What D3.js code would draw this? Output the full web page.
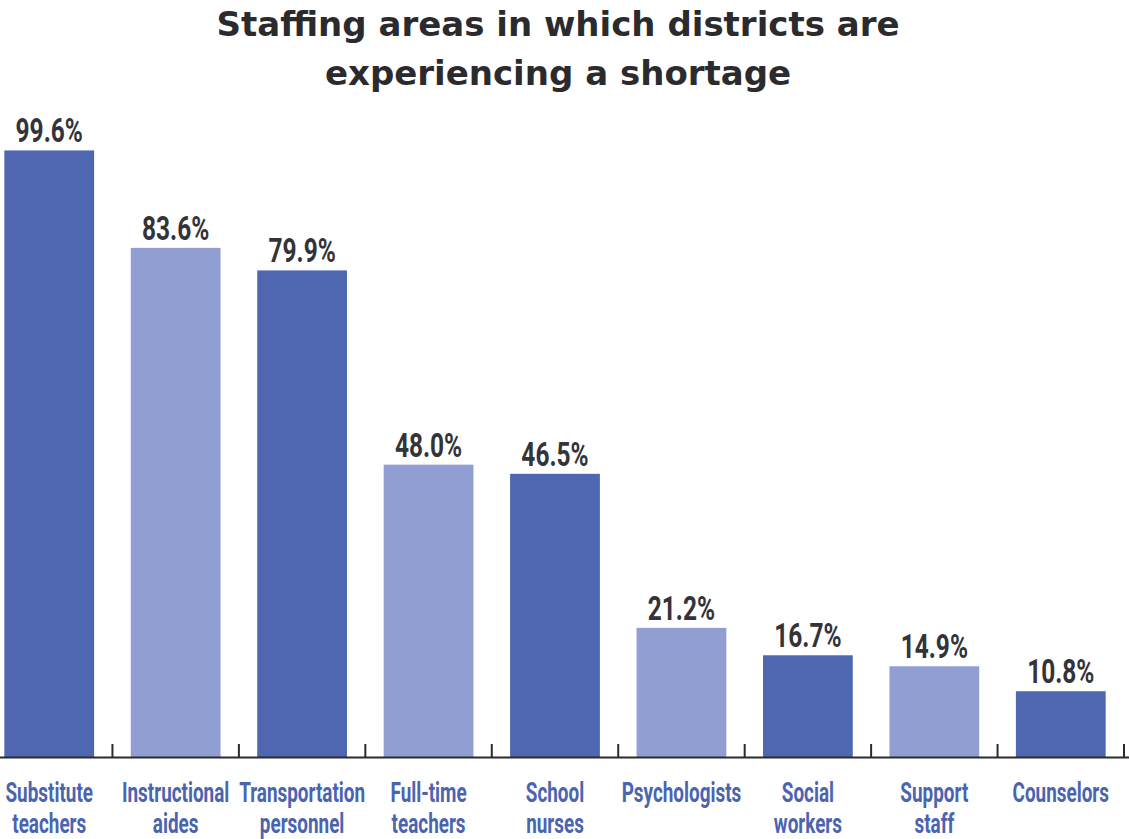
<!DOCTYPE html>
<html>
<head>
<meta charset="utf-8">
<script src="https://cdn.jsdelivr.net/npm/d3@7"></script>
<style>
  body { margin: 0; background: #fff; }
  svg { display: block; }
</style>
</head>
<body>
<svg width="1129" height="839"></svg>
<script>
// data
const categories = [
    ['Substitute', 'teachers'],
    ['Instructional', 'aides'],
    ['Transportation', 'personnel'],
    ['Full-time', 'teachers'],
    ['School', 'nurses'],
    ['Psychologists'],
    ['Social', 'workers'],
    ['Support', 'staff'],
    ['Counselors']
];
const values = [99.6, 83.6, 79.9, 48.0, 46.5, 21.2, 16.7, 14.9, 10.8];
const shades = ['dark', 'light', 'dark', 'light', 'dark', 'light', 'dark', 'light', 'dark'];
const titleLines = ['Staffing areas in which districts are', 'experiencing a shortage'];

const colors = { dark: '#4f66b1', light: '#919ed1' };
// no condensed font installed, so Roboto gets squeezed sideways
const narrow = "Roboto, 'Liberation Sans', sans-serif";

const svg = d3.select('svg');
const baseY = 757;

const x = d3.scaleBand()
    .domain(d3.range(values.length))
    .range([-14, 1124])
    .paddingInner(0.29)
    .paddingOuter(0.145);

const y = d3.scaleLinear().domain([0, 100]).range([baseY, 148]);
const cx = i => x(i) + x.bandwidth() / 2;

// title
svg.selectAll('text.title')
    .data(titleLines)
    .join('text')
    .attr('class', 'title')
    .attr('x', 558).attr('y', (d, i) => 36 + i * 49)
    .attr('text-anchor', 'middle')
    .style('font-family', "'DejaVu Sans', sans-serif").style('font-weight', 'bold')
    .style('font-size', '34px').style('fill', '#2b2b2e')
    .text(d => d);

// bars
svg.selectAll('rect.bar')
    .data(values)
    .join('rect')
    .attr('class', 'bar')
    .attr('x', (d, i) => x(i))
    .attr('width', x.bandwidth())
    .attr('y', d => y(d))
    .attr('height', d => baseY - y(d))
    .style('fill', (d, i) => colors[shades[i]]);

// value labels
svg.selectAll('text.val')
    .data(values)
    .join('text')
    .attr('class', 'val')
    .attr('transform', (d, i) => `translate(${cx(i)},${y(d) - 8}) scale(0.72,1)`)
    .attr('text-anchor', 'middle')
    .style('font-family', narrow).style('font-weight', 'bold')
    .style('font-size', '34px').style('fill', '#333338')
    .text(d => d.toFixed(1) + '%');

// axis: line plus ticks on the band boundaries
const step = x.step();
const tickXs = d3.range(1, values.length + 1).map(i => x(i - 1) - x.paddingInner() * step / 2 + step);
svg.append('line')
    .attr('x1', 0).attr('x2', 1129)
    .attr('y1', baseY + 0.5).attr('y2', baseY + 0.5)
    .style('stroke', '#2b2b2b').style('stroke-width', 2);
svg.selectAll('line.tick')
    .data(tickXs)
    .join('line')
    .attr('class', 'tick')
    .attr('x1', d => d).attr('x2', d => d)
    .attr('y1', baseY - 13).attr('y2', baseY)
    .style('stroke', '#2b2b2b').style('stroke-width', 2);

// category labels
const cat = svg.selectAll('g.cat')
    .data(categories)
    .join('g')
    .attr('class', 'cat');
cat.selectAll('text')
    .data((d, i) => d.map(t => ({ t, i })))
    .join('text')
    .attr('transform', (d, j) => `translate(${cx(d.i)},${802 + j * 31}) scale(0.7,1)`)
    .attr('text-anchor', 'middle')
    .style('font-family', narrow).style('font-weight', 'bold')
    .style('font-size', '27px').style('fill', '#4a64b0')
    .text(d => d.t);
</script>
</body>
</html>
